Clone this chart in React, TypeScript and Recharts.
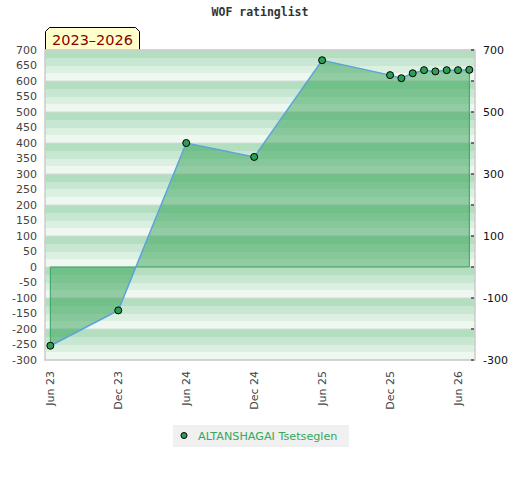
import React from "react";
import {
  ComposedChart,
  Area,
  Line,
  XAxis,
  YAxis,
  CartesianGrid,
  ReferenceArea,
  ReferenceLine,
} from "recharts";

// months counted from Jun 2023
const MONTHS = [0, 6, 12, 18, 24, 30, 31, 32, 33, 34, 35, 36, 37];
const RATINGS = [-254, -140, 400, 355, 667, 619, 609, 625, 635, 631, 635, 635, 636];

const X_TICKS = [0, 6, 12, 18, 24, 30, 36];
const X_LABELS = ["Jun 23", "Dec 23", "Jun 24", "Dec 24", "Jun 25", "Dec 25", "Jun 26"];

const LEFT_TICKS = [
  -300, -250, -200, -150, -100, -50, 0, 50, 100, 150, 200, 250, 300, 350, 400, 450, 500, 550,
  600, 650, 700,
];
const RIGHT_TICKS = [-300, -200, -100, 0, 100, 200, 300, 400, 500, 600, 700];
const RIGHT_LABELED = [-300, -100, 100, 300, 500, 700];

const STRIPE_VALUES = Array.from({ length: 41 }, (_, i) => 700 - i * 25);
const STRIPE_COLORS = ["#b3dec0", "#c8e7d2", "#dcf0e2", "#eff7f1"];

const X_DOMAIN: [number, number] = [-0.47, 37.5];
const Y_DOMAIN: [number, number] = [-300, 700];

const data = MONTHS.map((m, i) => ({ m, value: RATINGS[i] }));
const first = data[0];
const last = data[data.length - 1];

function BottomTick(props: any) {
  const { x, y, payload } = props;
  const label = X_LABELS[X_TICKS.indexOf(payload.value)] ?? "";
  const tx = x + 4;
  const ty = y + 11;
  return (
    <text
      x={tx}
      y={ty}
      transform={`rotate(-90, ${tx}, ${ty})`}
      textAnchor="end"
      fontSize={11}
      fill="#444"
      fontFamily="DejaVu Sans"
    >
      {label}
    </text>
  );
}

function RightTick(props: any) {
  const { x, y, payload } = props;
  const show = RIGHT_LABELED.includes(payload.value);
  return (
    <g>
      <line x1={x - 4} x2={x - 1} y1={y} y2={y} stroke="#000" strokeWidth={1} />
      {show && (
        <text x={x + 8} y={y} dy="0.35em" textAnchor="start" fontSize={11} fill="#111" fontFamily="DejaVu Sans">
          {payload.value}
        </text>
      )}
    </g>
  );
}

export default function App() {
  return (
    <div style={{ position: "absolute", left: 0, top: 0, width: 520, height: 480, background: "#fff" }}>
      <div
        style={{
          position: "absolute",
          left: 0,
          top: 5,
          width: 520,
          textAlign: "center",
          fontFamily: "DejaVu Sans Mono",
          fontWeight: "bold",
          fontSize: 11.5,
          color: "#333",
        }}
      >
        WOF ratinglist
      </div>
      <svg style={{ position: "absolute", left: 0, top: 0 }} width={160} height={52}>
        <path d="M45.5,50.5 L45.5,31.5 L49.5,27.5 L135.5,27.5 L139.5,31.5 L139.5,50.5 Z" fill="#ffffcc" stroke="#000" />
        <text x={92.5} y={45} textAnchor="middle" fontSize={14.5} fill="#8b0000" fontFamily="DejaVu Sans">
          2023–2026
        </text>
      </svg>
      <ComposedChart
        width={520}
        height={480}
        data={data}
        margin={{ top: 50, right: 0, bottom: 0, left: 0 }}
        style={{ position: "absolute", left: 0, top: 0 }}
      >
        <CartesianGrid
          yAxisId="left"
          horizontalValues={STRIPE_VALUES}
          horizontalFill={STRIPE_COLORS}
          fillOpacity={1}
          stroke="none"
          vertical={false}
        />
        <CartesianGrid yAxisId="left" horizontalValues={RIGHT_TICKS} stroke="#d8d8d8" vertical={false} />
        <XAxis
          dataKey="m"
          type="number"
          domain={X_DOMAIN}
          ticks={X_TICKS}
          allowDataOverflow
          height={120}
          axisLine={false}
          tickLine={false}
          tickSize={0}
          tickMargin={0}
          tick={<BottomTick />}
          interval={0}
        />
        <YAxis
          yAxisId="left"
          domain={Y_DOMAIN}
          ticks={LEFT_TICKS}
          allowDataOverflow
          width={45}
          axisLine={false}
          tickLine={false}
          tickSize={6}
          tickMargin={2}
          interval={0}
          tick={{ fontSize: 11, fill: "#444", fontFamily: "DejaVu Sans" }}
        />
        <YAxis
          yAxisId="right"
          orientation="right"
          domain={Y_DOMAIN}
          ticks={RIGHT_TICKS}
          allowDataOverflow
          width={45}
          axisLine={false}
          tickLine={false}
          tickSize={0}
          tickMargin={0}
          interval={0}
          tick={<RightTick />}
        />
        <Area
          yAxisId="left"
          dataKey="value"
          type="linear"
          baseValue={0}
          fill="#2a9d4e"
          fillOpacity={0.48}
          stroke="none"
          isAnimationActive={false}
        />
        <ReferenceLine
          yAxisId="left"
          segment={[{ x: first.m, y: 0 }, { x: last.m, y: 0 }]}
          stroke="#33a35a"
          strokeWidth={1}
        />
        <ReferenceLine
          yAxisId="left"
          segment={[{ x: first.m, y: 0 }, { x: first.m, y: first.value }]}
          stroke="#33a35a"
          strokeWidth={1}
        />
        <ReferenceLine
          yAxisId="left"
          segment={[{ x: last.m, y: 0 }, { x: last.m, y: last.value }]}
          stroke="#33a35a"
          strokeWidth={1}
        />
        <ReferenceArea
          yAxisId="left"
          x1={X_DOMAIN[0]}
          x2={X_DOMAIN[1]}
          y1={Y_DOMAIN[0]}
          y2={Y_DOMAIN[1]}
          fill="none"
          stroke="#cccccc"
          strokeWidth={1.5}
        />
        <Line
          yAxisId="left"
          dataKey="value"
          type="linear"
          stroke="#5ba3dc"
          strokeWidth={1.5}
          dot={{ r: 3.5, fill: "#2e9e52", stroke: "#000", strokeWidth: 1 }}
          isAnimationActive={false}
        />
      </ComposedChart>
      <div
        style={{
          position: "absolute",
          left: 173,
          top: 425,
          width: 176,
          height: 22,
          background: "#f0f0f0",
          display: "flex",
          alignItems: "center",
          fontFamily: "DejaVu Sans",
          fontSize: 11.2,
          color: "#34a85c",
        }}
      >
        <svg width={25} height={22}>
          <circle cx={11} cy={10.5} r={3} fill="#2e9e52" stroke="#000" strokeWidth={1} />
        </svg>
        <span>ALTANSHAGAI Tsetseglen</span>
      </div>
    </div>
  );
}
